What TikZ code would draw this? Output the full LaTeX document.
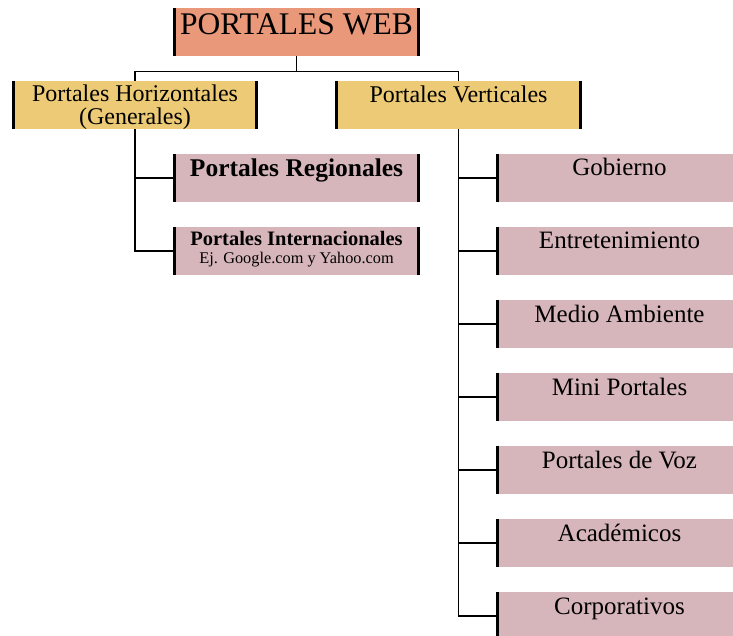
\documentclass[tikz,border=0pt]{standalone}
\usepackage{fontspec}
\setmainfont{Liberation Serif}
\usetikzlibrary{positioning}

\definecolor{salmonweb}{RGB}{233,152,122}
\definecolor{ocre}{RGB}{236,202,118}
\definecolor{rosado}{RGB}{214,182,187}

\tikzset{
  barras/.style={append after command={
      (\tikzlastnode.north west) edge[line width=3pt] (\tikzlastnode.south west)
      (\tikzlastnode.north east) edge[line width=3pt] (\tikzlastnode.south east)}},
  caja/.style={minimum width=243pt, minimum height=48pt, inner sep=0pt, align=center, barras},
  raiz/.style={caja, fill=salmonweb, text height=20pt, text depth=14pt, font=\fontsize{31.5}{32}\selectfont},
  tipo/.style={caja, fill=ocre, text height=16pt, text depth=20pt, font=\fontsize{24}{23}\selectfont},
  portal/.style={caja, fill=rosado, text height=16pt, text depth=20pt, font=\fontsize{25}{30}\selectfont},
  conector/.style={draw, line width=1.2pt},
}

\begin{document}
\begin{tikzpicture}[x=1pt,y=1pt,node distance=73pt,on grid]
  \path[use as bounding box] (0,0) rectangle (733,-636);
  \clip (0,0) rectangle (733,-636);
  \path
  node[raiz] (web) at (296.5,-32) {PORTALES WEB}
  node[tipo, text height=42pt, text depth=2pt] (horiz) [below left=73pt and 161.5pt of web] {Portales Horizontales\\(Generales)}
  node[tipo] (vert) [below right=73pt and 162pt of web] {Portales Verticales}
  node[portal, font=\fontsize{25.5}{30}\selectfont\bfseries, text depth=18pt] (regio) [below right=73pt and 161.5pt of horiz] {Portales Regionales}
  node[portal, font=\fontsize{16.3}{17.5}\selectfont, text height=34pt, text depth=9pt] (inter) [below=of regio]
    {{\fontsize{20.5}{17.5}\selectfont\bfseries Portales Internacionales}\\Ej. Google.com y Yahoo.com}
  ;
  \path
  node[portal] (gob) [below right=73pt and 161pt of vert] {Gobierno}
  node[portal] (entre) [below=of gob] {Entretenimiento}
  node[portal] (ambiente) [below=of entre] {Medio Ambiente}
  node[portal] (mini) [below=of ambiente] {Mini Portales}
  node[portal] (voz) [below=of mini] {Portales de Voz}
  node[portal] (acad) [below=of voz] {Académicos}
  node[portal] (corp) [below=of acad] {Corporativos}
  ;
  % ramas
  \coordinate[below=15pt of web.south] (fork);
  \draw[conector] (web.south) -- (fork) -| (horiz.north);
  \draw[conector] (fork) -| (vert.north);
  \draw[conector] (horiz.south) |- (regio.west);
  \draw[conector] (horiz.south) |- (inter.west);
  \draw[conector] (vert.south) |- (gob.west);
  \draw[conector] (vert.south) |- (entre.west);
  \draw[conector] (vert.south) |- (ambiente.west);
  \draw[conector] (vert.south) |- (mini.west);
  \draw[conector] (vert.south) |- (voz.west);
  \draw[conector] (vert.south) |- (acad.west);
  \draw[conector] (vert.south) |- (corp.west);
\end{tikzpicture}
\end{document}
